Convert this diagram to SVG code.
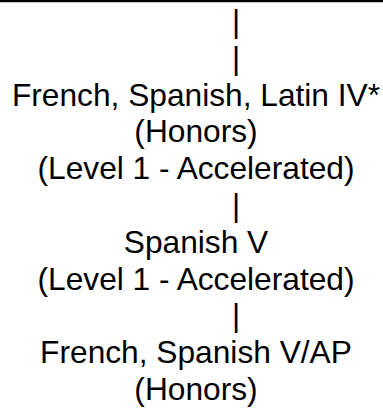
<svg xmlns="http://www.w3.org/2000/svg" width="383" height="419" viewBox="0 0 383 419">
<style>
text{font-family:"Liberation Sans",Arial,sans-serif;font-size:31.7px;fill:#000;text-anchor:middle}
</style>
<rect width="383" height="419" fill="#fff"/>
<rect x="0" y="0" width="383" height="2.2" fill="#000"/>
<g id="connectors">
<text x="236" y="32">|</text>
<text x="236" y="68.8">|</text>
<text x="236" y="216">|</text>
<text x="236" y="326.4">|</text>
</g>
<g id="node-level4">
<text x="196" y="105.6">French, Spanish, Latin IV*</text>
<text x="196" y="142.4">(Honors)</text>
<text x="196" y="179.2">(Level 1 - Accelerated)</text>
</g>
<g id="node-spanish5">
<text x="196" y="252.8">Spanish V</text>
<text x="196" y="289.6">(Level 1 - Accelerated)</text>
</g>
<g id="node-ap">
<text x="196" y="363.2">French, Spanish V/AP</text>
<text x="196" y="400">(Honors)</text>
</g>
</svg>
